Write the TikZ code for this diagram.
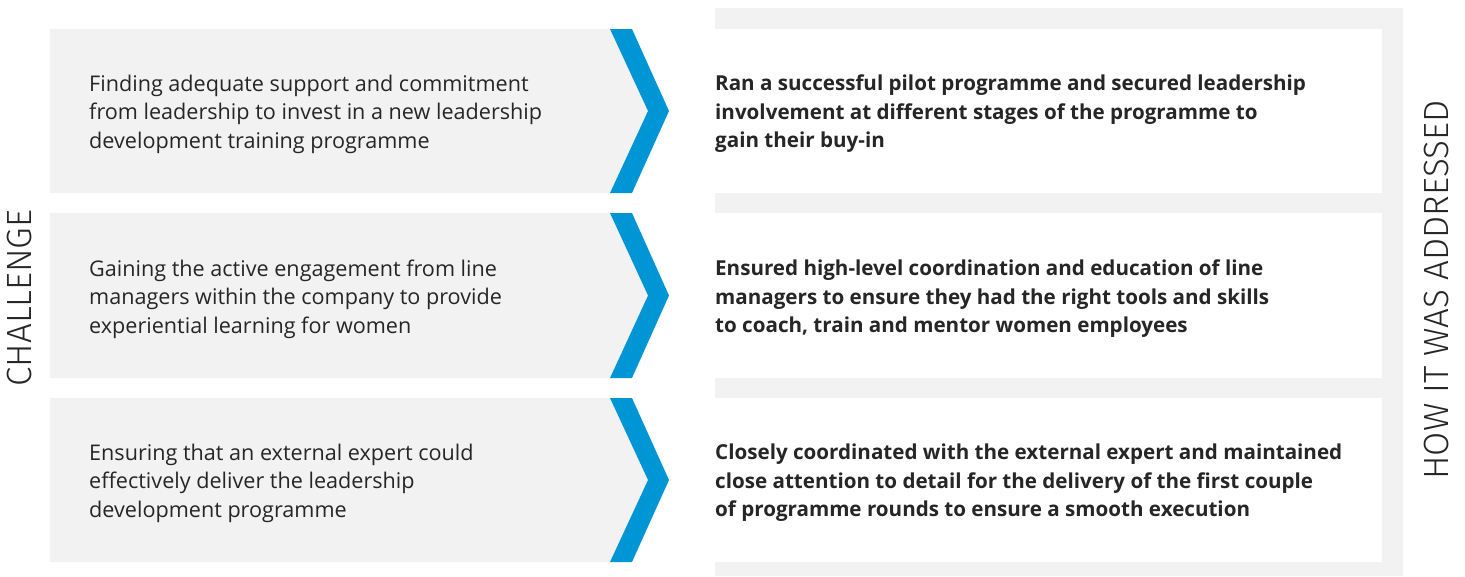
\documentclass[tikz,border=0pt]{standalone}
\usepackage{fontspec}
\setmainfont{Open Sans}
\newfontfamily\headfont{Fira Sans Light}
\usetikzlibrary{positioning}

\definecolor{rowgrey}{HTML}{F2F2F2}
\definecolor{chevblue}{HTML}{0096D6}
\definecolor{inkgrey}{HTML}{262626}

\begin{document}
\begin{tikzpicture}[x=1pt,y=-1pt,
	challengetext/.style={anchor=west,inner sep=0pt,align=left,text=inkgrey,
		font=\fontsize{21.6}{28.5}\selectfont},
	answertext/.style={anchor=west,inner sep=0pt,align=left,text=inkgrey,
		font=\fontsize{20.6}{28.5}\selectfont\bfseries},
	sidelabel/.style={rotate=90,inner sep=0pt,text=inkgrey,
		font=\fontsize{35}{35}\selectfont\headfont}]
	\useasboundingbox (0,0) rectangle (1465,576);
	% right hand frame with the three white answer panels
	\fill[rowgrey] (715,8) rectangle (1403,576);
	\fill[white] (715,29) rectangle (1382,193);
	\fill[white] (715,213) rectangle (1382,378);
	\fill[white] (715,398) rectangle (1382,562);
	% challenge rows
	\fill[rowgrey] (50,29)--(610,29)--(648,111)--(610,193)--(50,193)--cycle;
	\fill[rowgrey] (50,213)--(610,213)--(648,295.5)--(610,378)--(50,378)--cycle;
	\fill[rowgrey] (50,398)--(610,398)--(648,480)--(610,562)--(50,562)--cycle;
	% chevrons
	\fill[chevblue] (610,29)--(632,29)--(669,111)--(632,193)--(610,193)--(648,111)--cycle;
	\fill[chevblue] (610,213)--(632,213)--(669,295.5)--(632,378)--(610,378)--(648,295.5)--cycle;
	\fill[chevblue] (610,398)--(632,398)--(669,480)--(632,562)--(610,562)--(648,480)--cycle;
	% texts
	\node[challengetext] (ch1) at (89,114) {Finding adequate support and commitment\\from leadership to invest in a new leadership\\development training programme};
	\node[challengetext] (ch2) at (89,299) {Gaining the active engagement from line\\managers within the company to provide\\experiential learning for women};
	\node[challengetext] (ch3) at (89,483) {Ensuring that an external expert could\\effectively deliver the leadership\\development programme};
	\node[answertext] (ans1) at (715,114) {Ran a successful pilot programme and secured leadership\\involvement at different stages of the programme to\\gain their buy-in};
	\node[answertext] (ans2) at (715,299) {Ensured high-level coordination and education of line\\managers to ensure they had the right tools and skills\\to coach, train and mentor women employees};
	\node[answertext] (ans3) at (715,483) {Closely coordinated with the external expert and maintained\\close attention to detail for the delivery of the first couple\\of programme rounds to ensure a smooth execution};
	\node[sidelabel] (challenge) at (20,298) {CHALLENGE};
	\node[sidelabel] (addressed) at (1436,290) {HOW IT WAS ADDRESSED};
\end{tikzpicture}
\end{document}
